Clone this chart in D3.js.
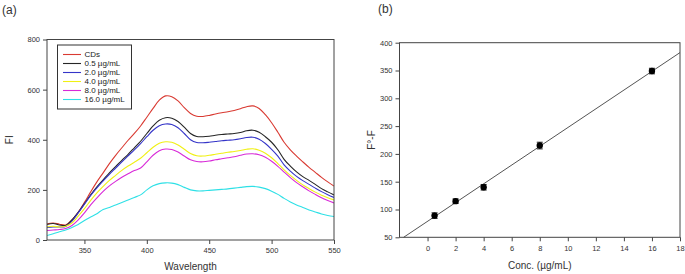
<!DOCTYPE html>
<html>
<head>
<meta charset="utf-8">
<script src="https://cdn.jsdelivr.net/npm/d3@7"></script>
<style>
  body { margin: 0; background: #fff; }
  svg { display: block; font-family: "Liberation Sans", Arial, sans-serif; }
</style>
</head>
<body>
<div id="chart"></div>
<script>
// ---- panel (a): emission spectra ----
const wavelength = [320,325,330,335,340,345,350,355,360,365,370,375,380,385,390,395,400,405,410,415,420,425,430,435,440,445,450,455,460,465,470,475,480,485,490,495,500,505,510,515,520,525,530,535,540,545,550]

const fiCDs   = [65,68,63,60,80,110,150,192,232,268,305,338,368,398,425,455,490,525,558,575,572,555,528,505,494,493,497,503,508,512,517,524,532,535,525,500,468,430,390,360,335,312,290,270,250,232,215]
const fi0p5   = [62,66,60,58,80,110,145,180,212,240,268,293,318,342,368,394,425,455,478,488,486,473,450,425,413,412,414,418,421,423,425,429,436,438,430,412,390,360,322,295,272,253,238,222,205,192,180]
const fi2p0   = [50,52,52,54,75,108,143,178,208,236,262,287,312,336,360,385,412,438,456,463,461,448,425,400,389,388,390,393,396,398,400,404,409,410,402,385,362,335,300,275,254,237,222,207,193,181,170]
const fi4p0   = [53,55,52,55,68,95,125,158,188,214,238,258,278,295,310,326,348,370,386,392,390,379,362,345,336,335,338,342,346,350,353,357,362,364,358,346,328,305,280,258,238,220,205,191,179,169,160]
const fi8p0   = [38,40,42,46,58,80,108,140,168,194,216,234,250,264,277,287,312,338,356,363,361,351,335,320,313,312,315,320,324,328,332,338,343,344,340,330,314,294,271,249,229,212,196,182,169,158,148]
const fi16p0  = [18,25,33,40,50,62,78,92,105,122,130,140,150,160,170,180,200,216,225,228,227,221,210,200,196,196,198,200,202,204,207,210,213,214,211,205,195,182,166,152,140,130,120,112,104,98,94]

const seriesNames  = ["CDs", "0.5 \u00b5g/mL", "2.0 \u00b5g/mL", "4.0 \u00b5g/mL", "8.0 \u00b5g/mL", "16.0 \u00b5g/mL"]
const seriesValues = [fiCDs, fi0p5, fi2p0, fi4p0, fi8p0, fi16p0]
const seriesColors = ["#d93a32", "#262626", "#3535c8", "#f0f014", "#d82ad8", "#2ee0e6"]

const wlTicks = [350, 400, 450, 500, 550]
const fiTicks = [0, 200, 400, 600, 800]

// ---- panel (b): calibration ----
const conc     = [0.5, 2, 4, 8, 16]
const quench   = [89, 115, 140, 215, 349]
const quenchSd = [5, 4, 5, 6, 5]

const concTicks   = [0, 2, 4, 6, 8, 10, 12, 14, 16, 18]
const quenchTicks = [50, 100, 150, 200, 250, 300, 350, 400]

const W = 685, H = 274
const tickFont = "7.5px"
const labelFont = "10px"
const axisColor = "#444"

const svg = d3.select("#chart").append("svg")
  .attr("width", W)
  .attr("height", H)

function styleAxis(g) {
  g.select(".domain").remove()
  g.selectAll(".tick line").attr("stroke", axisColor)
  g.selectAll(".tick text").attr("fill", "#333").style("font-size", tickFont)
}

// ================= panel (a) =================
const a = { left: 47, right: 334, top: 39.5, bottom: 240 }

const xA = d3.scaleLinear().domain([320, 550]).range([a.left, a.right])
const yA = d3.scaleLinear().domain([0, 800]).range([a.bottom, a.top])

svg.append("g")
  .attr("transform", `translate(0,${a.bottom})`)
  .call(d3.axisBottom(xA).tickValues(wlTicks).tickSize(4).tickPadding(4))
  .call(styleAxis)

svg.append("g")
  .attr("transform", `translate(${a.left},0)`)
  .call(d3.axisLeft(yA).tickValues(fiTicks).tickSize(4).tickPadding(3))
  .call(styleAxis)

svg.append("defs").append("clipPath").attr("id", "clipA")
  .append("rect")
  .attr("x", a.left).attr("y", a.top)
  .attr("width", a.right - a.left).attr("height", a.bottom - a.top)

const line = d3.line()
  .x((d, i) => xA(wavelength[i]))
  .y(d => yA(d))
  .curve(d3.curveCatmullRom)

svg.append("g")
  .attr("clip-path", "url(#clipA)")
  .selectAll("path")
  .data(seriesValues)
  .join("path")
  .attr("d", line)
  .attr("fill", "none")
  .attr("stroke", (d, i) => seriesColors[i])
  .attr("stroke-width", 1.1)

svg.append("rect")
  .attr("x", a.left).attr("y", a.top)
  .attr("width", a.right - a.left).attr("height", a.bottom - a.top)
  .attr("fill", "none").attr("stroke", axisColor).attr("stroke-width", 1)

// legend
const leg = svg.append("g")
leg.append("rect")
  .attr("x", 57.5).attr("y", 45)
  .attr("width", 74).attr("height", 64)
  .attr("fill", "white").attr("stroke", "#333").attr("stroke-width", 1)

const legRows = leg.selectAll("g.row")
  .data(seriesNames)
  .join("g")
  .attr("class", "row")
  .attr("transform", (d, i) => `translate(0,${54.5 + i * 9})`)

legRows.append("line")
  .attr("x1", 63).attr("x2", 81)
  .attr("stroke", (d, i) => seriesColors[i])
  .attr("stroke-width", 1.1)

legRows.append("text")
  .attr("x", 84.5).attr("dy", "0.35em")
  .style("font-size", "8px").attr("fill", "#222")
  .text(d => d)

svg.append("text")
  .attr("x", (a.left + a.right) / 2).attr("y", 270)
  .attr("text-anchor", "middle").style("font-size", labelFont).attr("fill", "#333")
  .text("Wavelength")

svg.append("text")
  .attr("transform", `translate(13,${(a.top + a.bottom) / 2}) rotate(-90)`)
  .attr("text-anchor", "middle").style("font-size", labelFont).attr("fill", "#333")
  .text("FI")

svg.append("text")
  .attr("x", 2).attr("y", 14)
  .style("font-size", "12px").attr("fill", "#333")
  .text("(a)")

// ================= panel (b) =================
const b = { left: 399.5, right: 680, top: 42.7, bottom: 237.3 }

const xB = d3.scaleLinear().domain([-2, 18]).range([b.left, b.right])
const yB = d3.scaleLinear().domain([50, 400]).range([b.bottom, b.top])

svg.append("g")
  .attr("transform", `translate(0,${b.bottom})`)
  .call(d3.axisBottom(xB).tickValues(concTicks).tickSize(4).tickPadding(4))
  .call(styleAxis)

svg.append("g")
  .attr("transform", `translate(${b.left},0)`)
  .call(d3.axisLeft(yB).tickValues(quenchTicks).tickSize(4).tickPadding(3))
  .call(styleAxis)

// least squares fit through the points
const mx = d3.mean(conc), my = d3.mean(quench)
const slope = d3.sum(conc, (c, i) => (c - mx) * (quench[i] - my)) / d3.sum(conc, c => (c - mx) ** 2)
const icpt = my - slope * mx
const fitX0 = Math.max(-2, (50 - icpt) / slope)
const fitX1 = Math.min(18, (400 - icpt) / slope)

svg.append("line")
  .attr("x1", xB(fitX0)).attr("y1", yB(icpt + slope * fitX0))
  .attr("x2", xB(fitX1)).attr("y2", yB(icpt + slope * fitX1))
  .attr("stroke", "#555").attr("stroke-width", 1)

const pts = svg.append("g")
  .selectAll("g")
  .data(conc)
  .join("g")

pts.append("line")
  .attr("x1", d => xB(d)).attr("x2", d => xB(d))
  .attr("y1", (d, i) => yB(quench[i] - quenchSd[i]))
  .attr("y2", (d, i) => yB(quench[i] + quenchSd[i]))
  .attr("stroke", "#222")
pts.append("line")
  .attr("x1", d => xB(d) - 3).attr("x2", d => xB(d) + 3)
  .attr("y1", (d, i) => yB(quench[i] + quenchSd[i]))
  .attr("y2", (d, i) => yB(quench[i] + quenchSd[i]))
  .attr("stroke", "#222")
pts.append("line")
  .attr("x1", d => xB(d) - 3).attr("x2", d => xB(d) + 3)
  .attr("y1", (d, i) => yB(quench[i] - quenchSd[i]))
  .attr("y2", (d, i) => yB(quench[i] - quenchSd[i]))
  .attr("stroke", "#222")
pts.append("circle")
  .attr("cx", d => xB(d))
  .attr("cy", (d, i) => yB(quench[i]))
  .attr("r", 3.2)
  .attr("fill", "#000")

svg.append("rect")
  .attr("x", b.left).attr("y", b.top)
  .attr("width", b.right - b.left).attr("height", b.bottom - b.top)
  .attr("fill", "none").attr("stroke", axisColor).attr("stroke-width", 1)

svg.append("text")
  .attr("x", (b.left + b.right) / 2).attr("y", 269)
  .attr("text-anchor", "middle").style("font-size", labelFont).attr("fill", "#333")
  .text("Conc. (\u00b5g/mL)")

svg.append("text")
  .attr("transform", `translate(375,${(b.top + b.bottom) / 2}) rotate(-90)`)
  .attr("text-anchor", "middle").style("font-size", labelFont).attr("fill", "#333")
  .text("F\u00b0-F")

svg.append("text")
  .attr("x", 378).attr("y", 13)
  .style("font-size", "12px").attr("fill", "#333")
  .text("(b)")
</script>
</body>
</html>
